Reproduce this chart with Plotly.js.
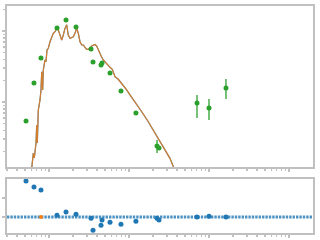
<!DOCTYPE html>
<html><head><meta charset="utf-8">
<script src="https://cdn.plot.ly/plotly-3.0.1.min.js"></script>
<style>html,body{margin:0;padding:0;background:#fff}#chart{width:320px;height:240px}</style>
</head><body><div id="chart"></div>
<script>
// Photometric data points
const obsX = [0.516,0.649,0.794,1.259,1.631,2.175,3.35,3.55,4.47,4.60,5.79,7.94,12.2,22.4,23.7,70.8,100,163];
const obsY = [5.40e-13,1.85e-12,4.17e-12,1.10e-11,1.43e-11,1.14e-11,5.57e-12,3.66e-12,3.32e-12,3.54e-12,2.56e-12,1.43e-12,7.00e-13,2.40e-13,2.25e-13,9.68e-13,8.22e-13,1.57e-12];
const errUp = [0,0,0,0,0,0,0,0,0,0,0,0,0,0.52e-13,0,0.287e-12,0.279e-12,0.532e-12];
const errDn = [0,0,0,0,0,0,0,0,0,0,0,0,0,0.49e-13,0,0.372e-12,0.265e-12,0.471e-12];
// Residuals
const resid = [1.89,1.58,1.42,0.09,0.26,0.14,-0.07,-0.70,-0.44,-0.16,-0.28,-0.38,-0.23,-0.07,-0.16,0.0,0.04,0.0];
const modelPtX = [0.794,70.8,163];
const modelPtY = [0,0,0];
// Model SED curve
const modelX = [0.608,0.618,0.637,0.655,0.668,0.688,0.702,0.714,0.735,0.757,0.772,0.794,0.811,0.834,0.849,0.891,0.917,0.944,0.980,1.029,1.081,1.132,1.189,1.248,1.307,1.372,1.442,1.509,1.585,1.664,1.742,1.830,1.922,2.013,2.113,2.218,2.323,2.441,2.563,2.685,2.818,2.958,3.097,3.255,3.417,3.578,3.758,3.945,4.130,4.341,4.530,4.774,5.262,5.790,6.185,6.368,6.683,7.345,8.106,8.913,9.354,10.29,11.89,14.42,17.42,21.13,24.41,28.18,32.54,36.52];
const modelY = [1.17e-13,1.44e-13,1.91e-13,1.63e-13,2.11e-13,2.65e-13,4.74e-13,2.65e-13,7.71e-13,9.08e-13,1.07e-12,1.48e-12,2.67e-12,1.48e-12,2.83e-12,3.91e-12,3.70e-12,5.40e-12,5.70e-12,7.06e-12,8.31e-12,9.29e-12,9.78e-12,1.09e-11,1.03e-11,8.78e-12,7.47e-12,8.78e-12,1.09e-11,1.22e-11,8.78e-12,7.89e-12,8.15e-12,8.31e-12,9.29e-12,1.09e-11,9.29e-12,7.06e-12,6.35e-12,6.35e-12,5.89e-12,5.52e-12,5.52e-12,5.70e-12,6.15e-12,6.35e-12,6.46e-12,6.15e-12,5.40e-12,4.85e-12,4.35e-12,3.91e-12,3.43e-12,3.08e-12,2.89e-12,2.67e-12,2.27e-12,2.09e-12,1.83e-12,1.56e-12,1.48e-12,1.26e-12,1.01e-12,7.30e-13,5.28e-13,3.62e-13,2.76e-13,2.11e-13,1.61e-13,1.17e-13];
const xLogRange = [-0.525, 3.3];
const yLogRange = [-12.915, -10.648];
const residRange = [-0.842, 2.0];
const zeroX = [Math.pow(10, xLogRange[0]), Math.pow(10, xLogRange[1])];
const zeroY = [0, 0];

const blue = '#1f77b4', orange = '#ff7f0e', green = '#2ca02c', gray = '#c0c0c0';

const traces = [
  {x: modelX, y: modelY, type: 'scatter', mode: 'lines', line: {color: blue, width: 1.2}, xaxis: 'x', yaxis: 'y'},
  {x: modelX, y: modelY, type: 'scatter', mode: 'lines', line: {color: orange, width: 1.2}, opacity: 0.8, xaxis: 'x', yaxis: 'y'},
  {x: obsX, y: obsY, type: 'scatter', mode: 'markers', marker: {color: green, size: 5},
   error_y: {type: 'data', symmetric: false, array: errUp, arrayminus: errDn, color: green, thickness: 1.3, width: 0},
   xaxis: 'x', yaxis: 'y'},
  {x: zeroX, y: zeroY, type: 'scatter', mode: 'lines', line: {color: 'rgba(31,119,180,0.8)', width: 3, dash: '2.4px,1px'}, xaxis: 'x2', yaxis: 'y2'},
  {x: modelPtX, y: modelPtY, type: 'scatter', mode: 'markers', marker: {color: orange, size: 4}, xaxis: 'x2', yaxis: 'y2'},
  {x: obsX, y: resid, type: 'scatter', mode: 'markers', marker: {color: blue, size: 5}, xaxis: 'x2', yaxis: 'y2'}
];

const axCommon = {showline: true, linecolor: gray, linewidth: 2, mirror: true, showgrid: false, zeroline: false,
  showticklabels: false, ticks: 'outside', ticklen: 3, tickwidth: 1.5, tickcolor: gray};
const logMinor = {ticks: 'outside', ticklen: 2, tickwidth: 1.5, tickcolor: gray, dtick: 'D1', showgrid: false};

const layout = {
  width: 320, height: 240,
  margin: {l: 7, r: 7, t: 6, b: 7},
  paper_bgcolor: '#fff', plot_bgcolor: '#fff',
  showlegend: false,
  xaxis: Object.assign({}, axCommon, {type: 'log', range: xLogRange, dtick: 1, minor: logMinor, anchor: 'y'}),
  yaxis: Object.assign({}, axCommon, {type: 'log', range: yLogRange, dtick: 1, minor: logMinor, domain: [0.2907, 1], anchor: 'x'}),
  xaxis2: Object.assign({}, axCommon, {type: 'log', range: xLogRange, dtick: 1, minor: logMinor, anchor: 'y2', matches: 'x'}),
  yaxis2: Object.assign({}, axCommon, {range: residRange, tickvals: [0, 1], domain: [0, 0.2379], anchor: 'x2'})
};

Plotly.newPlot('chart', traces, layout, {staticPlot: true, displayModeBar: false});
</script></body></html>
